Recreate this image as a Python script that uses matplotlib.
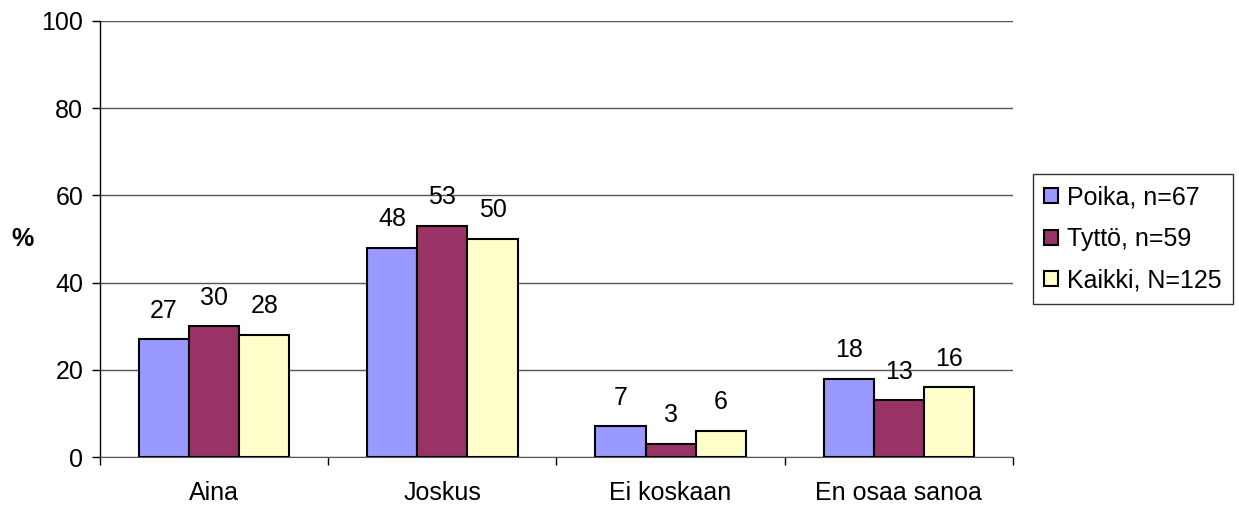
import matplotlib
matplotlib.use("Agg")
import matplotlib.pyplot as plt
import numpy as np

plt.rcParams['font.family'] = ['Liberation Sans', 'DejaVu Sans']

categories = ["Aina", "Joskus", "Ei koskaan", "En osaa sanoa"]
series_names = ["Poika, n=67", "Tyttö, n=59", "Kaikki, N=125"]
poika = [27, 48, 7, 18]
tytto = [30, 53, 3, 13]
kaikki = [28, 50, 6, 16]
colors = ["#9999FF", "#993366", "#FFFFCC"]

FS = 18

fig = plt.figure(figsize=(12.39, 5.07), dpi=100)
ax = fig.add_axes([0.0807, 0.0986, 0.8176 - 0.0807, 0.9586 - 0.0986])

x = np.arange(len(categories))
w = 0.22
for i, (vals, name, col) in enumerate(zip([poika, tytto, kaikki], series_names, colors)):
    pos = x + (i - 1) * w
    bars = ax.bar(pos, vals, w, color=col, edgecolor="black", linewidth=1.5, label=name, zorder=3)
    for b, v in zip(bars, vals):
        ax.annotate(str(v), (b.get_x() + b.get_width() / 2, v), xytext=(0, 12),
                    textcoords="offset points", ha="center", va="bottom", fontsize=FS)

ax.set_xlim(-0.5, len(categories) - 0.5)
ax.set_ylim(0, 100)
ax.set_yticks(range(0, 101, 20))
ax.yaxis.grid(True, color="#555555", linewidth=1, zorder=0)
ax.set_axisbelow(True)

ax.set_xticks(x)
ax.set_xticklabels(categories, fontsize=FS)
ax.tick_params(axis="x", length=0, pad=17)
ax.set_xticks(np.arange(-0.5, len(categories)), minor=True)
ax.tick_params(axis="x", which="minor", length=6, width=1, direction="out")
ax.tick_params(axis="y", labelsize=FS, length=6, width=1, direction="out", pad=6)

for s in ["top", "right"]:
    ax.spines[s].set_visible(False)
ax.spines["left"].set_linewidth(1)
ax.spines["bottom"].set_color("#555555")

fig.text(0.018, 0.528, "%", fontsize=FS, fontweight="bold", ha="center", va="center")

leg = ax.legend(loc="center left", bbox_to_anchor=(1.022, 0.5), fontsize=FS,
                frameon=True, fancybox=False, edgecolor="black", handlelength=0.55,
                handleheight=0.55, handletextpad=0.35, labelspacing=0.7, borderpad=0.45,
                borderaxespad=0)
leg.get_frame().set_linewidth(1)

fig.savefig("out.png", dpi=100)
